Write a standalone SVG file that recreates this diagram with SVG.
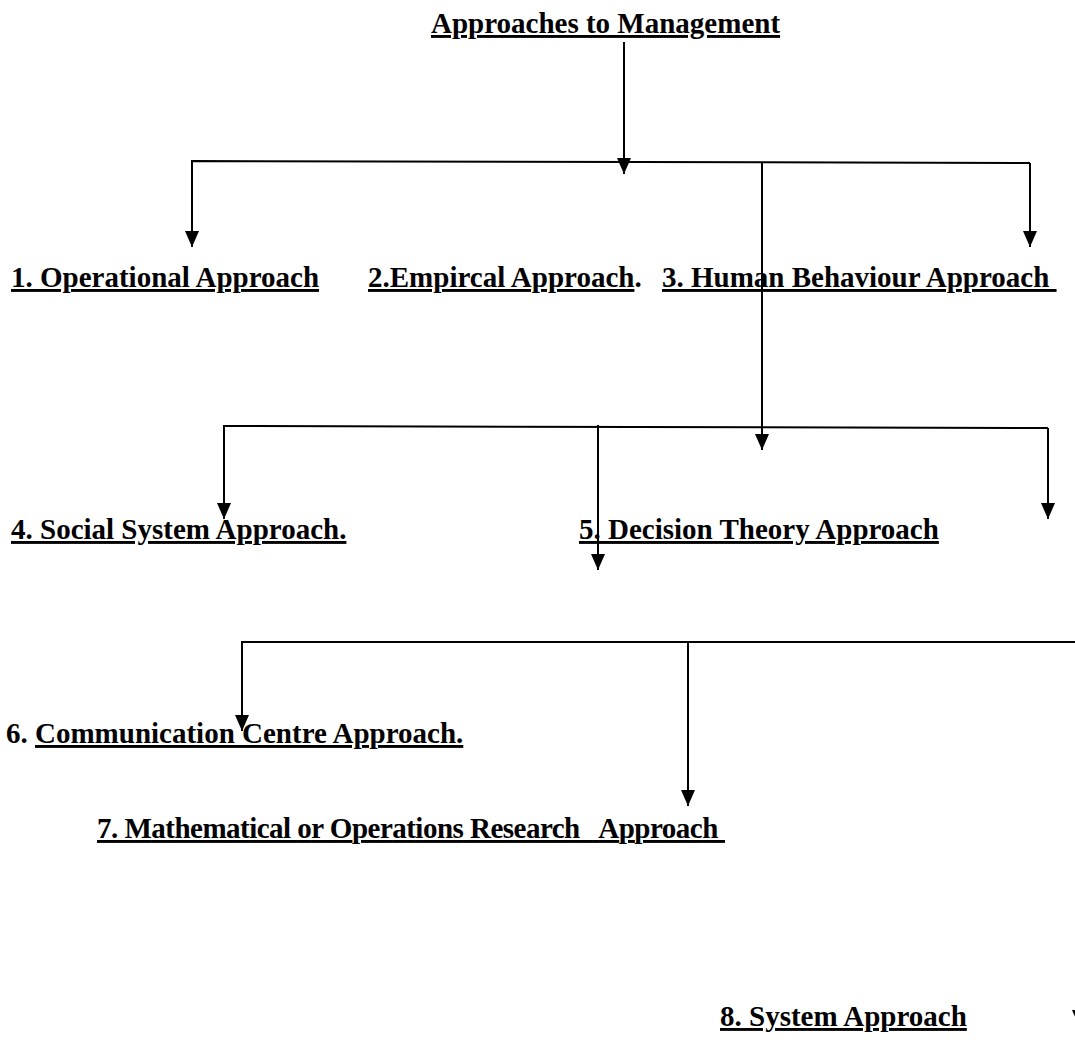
<svg xmlns="http://www.w3.org/2000/svg" width="1075" height="1052" viewBox="0 0 1075 1052">
<style>
text{font-family:"Liberation Serif","Times New Roman",serif;font-weight:bold;font-size:29px;fill:#000}
.u{text-decoration:underline}
.c{fill:none;stroke:#000;stroke-width:2}
</style>
<defs>
<marker id="ah" viewBox="0 0 16 14" refX="16" refY="7" markerWidth="16" markerHeight="14" markerUnits="userSpaceOnUse" orient="auto">
<path d="M0,0 L16,7 L0,14 Z" fill="#000"/>
</marker>
</defs>
<rect width="1075" height="1052" fill="#fff"/>
<g id="connectors">
<path class="c" d="M624,42 V174" marker-end="url(#ah)"/>
<path class="c" d="M1030,163 L192,161 V247" marker-end="url(#ah)"/>
<path class="c" d="M1030,163 V247" marker-end="url(#ah)"/>
<path class="c" d="M762,162 V450" marker-end="url(#ah)"/>
<path class="c" d="M1048,428 L224,426 V519" marker-end="url(#ah)"/>
<path class="c" d="M1048,428 V519" marker-end="url(#ah)"/>
<path class="c" d="M598,425 V570" marker-end="url(#ah)"/>
<path class="c" d="M1079,642 H242 V731" marker-end="url(#ah)"/>
<path class="c" d="M688,642 V806" marker-end="url(#ah)"/>
<path class="c" d="M1079,642 V1026" marker-end="url(#ah)"/>
</g>
<g id="root"><text x="431" y="33" class="u">Approaches to Management</text></g>
<g id="n1"><text x="11" y="287" class="u">1. Operational Approach</text></g>
<g id="n2"><text x="368" y="287"><tspan class="u">2.Empircal Approach</tspan>.</text></g>
<g id="n3"><text x="662" y="287" class="u" xml:space="preserve">3. Human Behaviour Approach </text></g>
<g id="n4"><text x="11" y="539" class="u">4. Social System Approach.</text></g>
<g id="n5"><text x="579" y="539" class="u">5. Decision Theory Approach</text></g>
<g id="n6"><text x="6" y="743" xml:space="preserve">6. <tspan class="u">Communication Centre Approach.</tspan></text></g>
<g id="n7"><text x="97" y="838" class="u" xml:space="preserve" textLength="628" lengthAdjust="spacing">7. Mathematical or Operations Research   Approach </text></g>
<g id="n8"><text x="720" y="1026" class="u">8. System Approach</text></g>
</svg>
